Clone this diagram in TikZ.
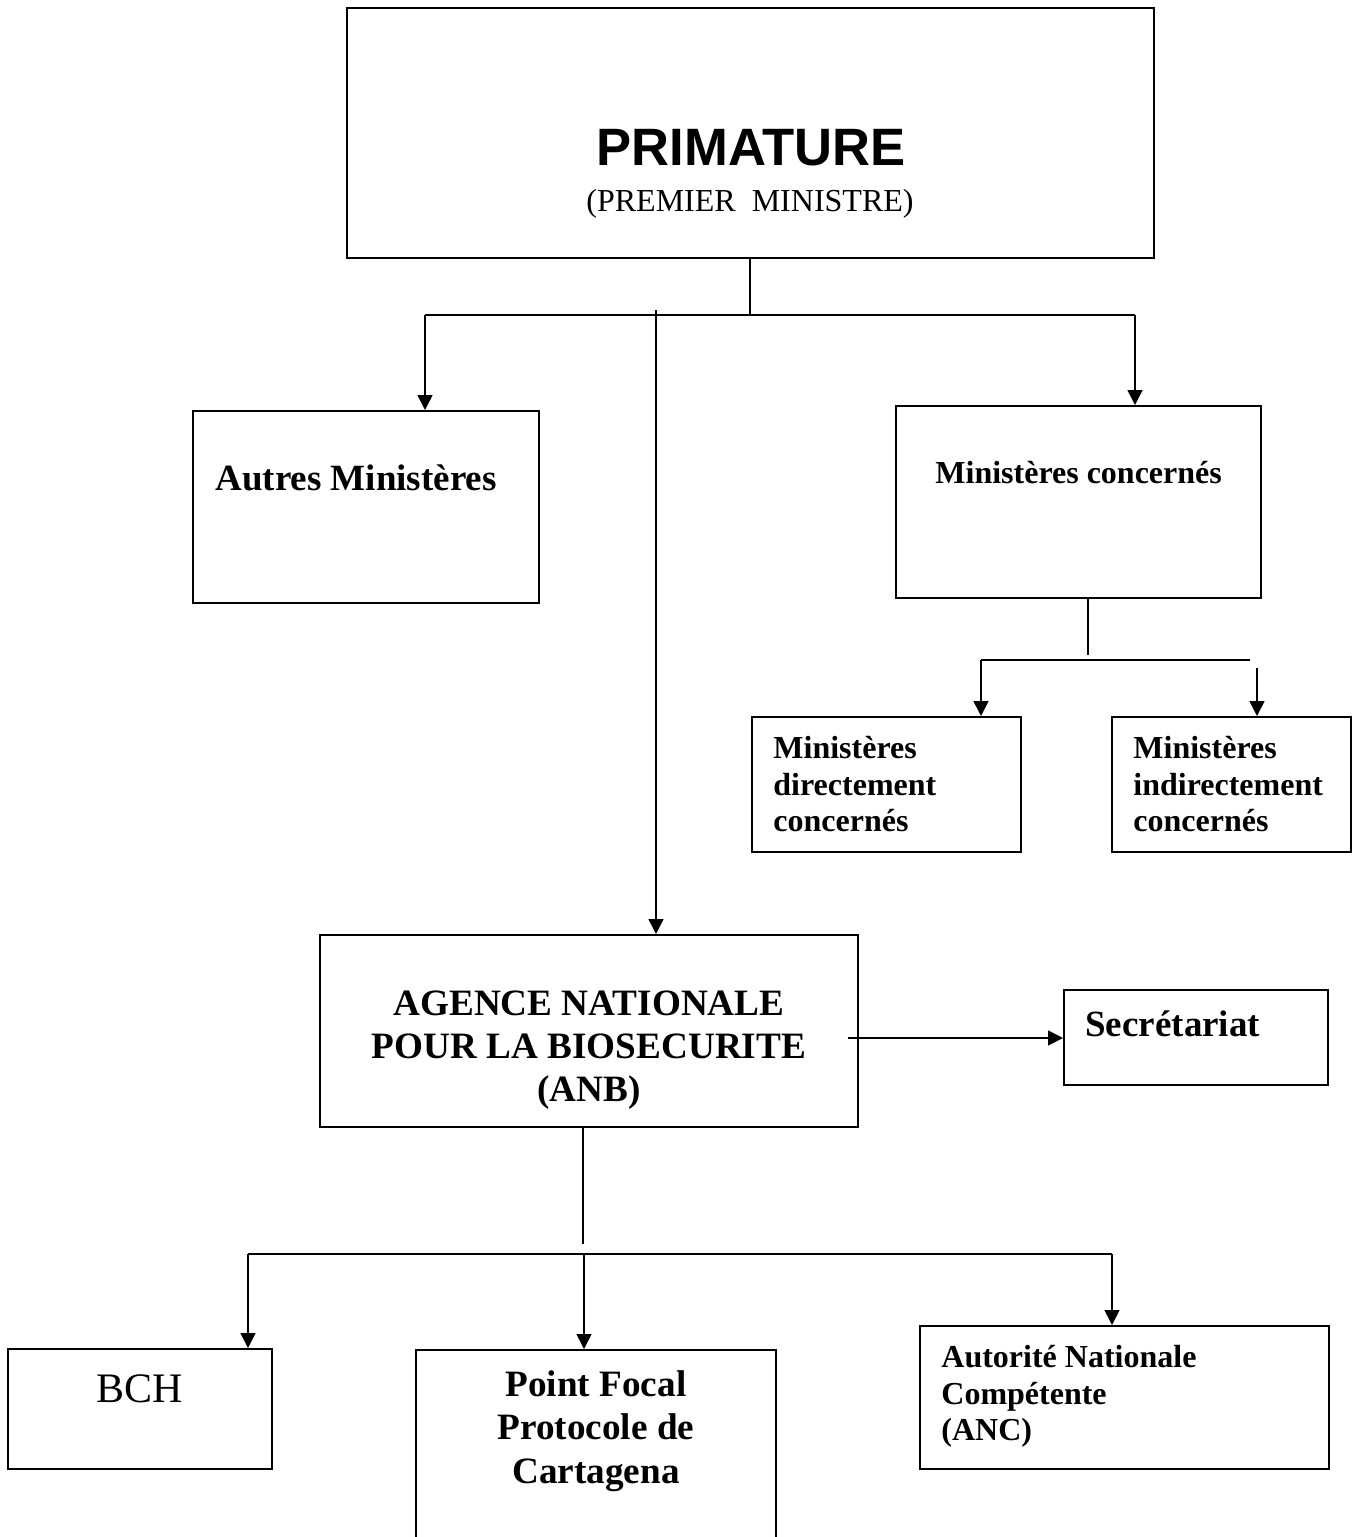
\documentclass[tikz,border=0pt]{standalone}
\usepackage{fontspec}
\setmainfont{Liberation Serif}
\newfontfamily\headfont{Liberation Sans}
\usetikzlibrary{arrows.meta, positioning}

\begin{document}
\begin{tikzpicture}[
    x=0.5pt, y=-0.5pt,
    >={Triangle[length=7.5pt,width=7.5pt]},
    orgbox/.style={draw, rectangle, line width=1pt, inner sep=0pt},
    boxtext/.style={inner sep=0pt, font=\bfseries\fontsize{16}{18.3}\selectfont, align=left},
    bigtext/.style={inner sep=0pt, font=\bfseries\fontsize{18.6}{21.7}\selectfont, align=center},
    link/.style={line width=0.8pt}
]
\useasboundingbox (0,0) rectangle (1352,1537);

% Boxes
\node[orgbox, minimum width=403.5pt, minimum height=125pt] (prim) at (750.5,133) {};
\node[orgbox, minimum width=173pt, minimum height=96pt] (autres) at (366,507) {};
\node[orgbox, minimum width=182.5pt, minimum height=96pt] (conc) at (1078.5,502) {};
\node[orgbox, minimum width=134.5pt, minimum height=67.5pt] (dir) at (886.5,784.5) {};
\node[orgbox, minimum width=119.5pt, minimum height=67.5pt] (indir) at (1231.5,784.5) {};
\node[orgbox, minimum width=269pt, minimum height=96pt] (anb) at (589,1031) {};
\node[orgbox, minimum width=132pt, minimum height=47.5pt] (sec) at (1196,1037.5) {};
\node[orgbox, minimum width=132pt, minimum height=60pt] (bch) at (140,1409) {};
\node[orgbox, minimum width=180pt, minimum height=97.5pt] (pf) at (596,1447.5) {};
\node[orgbox, minimum width=204.5pt, minimum height=71.5pt] (anc) at (1124.5,1397.5) {};

% Texts
\node[inner sep=0pt, anchor=base, font=\headfont\bfseries\fontsize{26.3}{30}\selectfont] (primtitle) at (751,165) {PRIMATURE};
\node[inner sep=0pt, anchor=base, font=\fontsize{16}{18}\selectfont] (primsub) at (750,211) {(PREMIER\ \ MINISTRE)};
\node[inner sep=0pt, anchor=base west, font=\bfseries\fontsize{18.5}{21}\selectfont] (autrestext) at (215,490) {Autres Ministères};
\node[boxtext, anchor=base west] (conctext) at (935,483) {Ministères concernés};
\node[boxtext, anchor=north west] (dirtext) at (773,736) {Ministères\\directement\\concernés};
\node[boxtext, anchor=north west] (indirtext) at (1133,736) {Ministères\\indirectement\\concernés};
\node[bigtext, anchor=north] (anbtext) at (589,990) {AGENCE NATIONALE\\POUR LA BIOSECURITE\\(ANB)};
\node[inner sep=0pt, anchor=base west, font=\bfseries\fontsize{18.5}{21}\selectfont] (sectext) at (1085,1036) {Secrétariat};
\node[inner sep=0pt, anchor=base, font=\fontsize{21}{24}\selectfont] (bchtext) at (140,1402) {BCH};
\node[bigtext, anchor=north] (pftext) at (596,1370) {Point Focal\\Protocole de\\Cartagena};
\node[boxtext, anchor=north west] (anctext) at (941,1345) {Autorité Nationale\\Compétente\\(ANC)};

% Junction points
\coordinate (pj) at (750,315);
\coordinate (ja) at (425,315);
\coordinate (jc) at (1135,315);
\coordinate (anbtop) at (656,310);
\coordinate (cj) at (1088,655);
\coordinate (jd) at (981,660);
\coordinate (je) at (1250,660);
\coordinate (ji) at (1257,668);
\coordinate (as) at (848,1038);
\coordinate (ab) at (583,1244);
\coordinate (jb) at (248,1254);
\coordinate (jp) at (584,1254);
\coordinate (jn) at (1112,1254);

% Connectors
\draw[link] (prim.south -| pj) -- (pj);
\draw[link] (ja) -- (jc);
\draw[link, ->] (ja) -- (ja |- autres.north);
\draw[link, ->] (jc) -- (jc |- conc.north);
\draw[link, ->] (anbtop) -- (anbtop |- anb.north);
\draw[link] (conc.south -| cj) -- (cj);
\draw[link] (jd) -- (je);
\draw[link, ->] (jd) -- (jd |- dir.north);
\draw[link, ->] (ji) -- (ji |- indir.north);
\draw[link, ->] (as) -- (as -| sec.west);
\draw[link] (anb.south -| ab) -- (ab);
\draw[link] (jb) -- (jn);
\draw[link, ->] (jb) -- (jb |- bch.north);
\draw[link, ->] (jp) -- (jp |- pf.north);
\draw[link, ->] (jn) -- (jn |- anc.north);

\end{tikzpicture}
\end{document}
